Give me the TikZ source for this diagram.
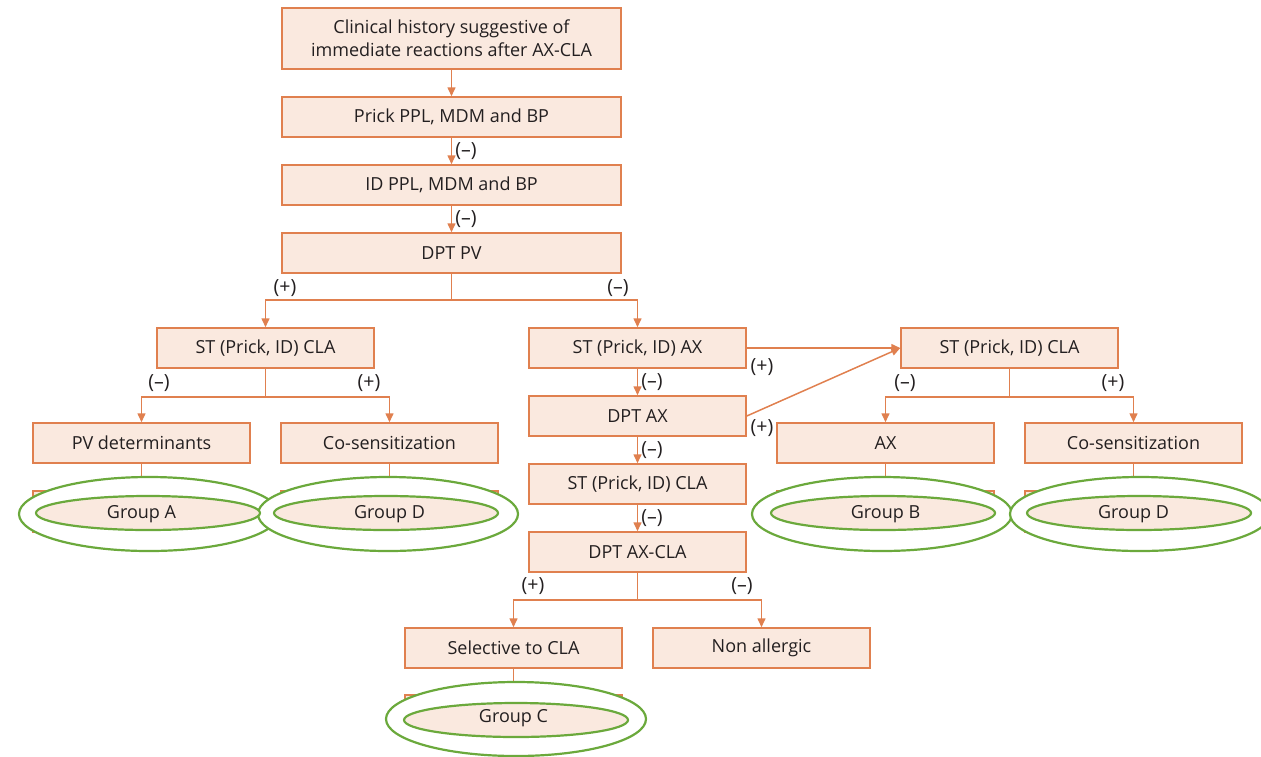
\documentclass[tikz,border=0pt]{standalone}
\usepackage{fontspec}
\setmainfont{Open Sans}
\usetikzlibrary{arrows.meta,shapes.geometric}
\definecolor{boxfill}{HTML}{FAE9DF}
\definecolor{boxline}{HTML}{E0804F}
\definecolor{grp}{HTML}{6BA93C}
\definecolor{txt}{HTML}{231F20}
\begin{document}
\begin{tikzpicture}[x=1pt,y=-1pt,
  font=\fontsize{18}{23}\selectfont,
  box/.style={draw=boxline,fill=boxfill,line width=1.5pt,minimum width=217pt,minimum height=40pt,inner sep=0pt,text=txt},
  widebox/.style={box,minimum width=339pt},
  conn/.style={draw=boxline,line width=1.5pt},
  arr/.style={conn,-{Triangle[length=9pt,width=8pt]}},
  lbl/.style={font=\fontsize{19.5}{22}\selectfont,inner sep=0pt,text=txt},
  outer/.style={draw=grp,fill=white,line width=2.2pt,ellipse,minimum width=260pt,minimum height=74pt,inner sep=0pt},
  inner/.style={draw=grp,fill=boxfill,line width=2.2pt,ellipse,minimum width=224pt,minimum height=34pt,inner sep=0pt,align=center}
]
\useasboundingbox (0,0) rectangle (1261,756);
% boxes
\node[widebox,minimum height=61pt,align=center] (hist) at (451.5,38.5) {Clinical history suggestive of\\immediate reactions after AX-CLA};
\node[widebox] (prick) at (451.5,117) {Prick PPL, MDM and BP};
\node[widebox] (id) at (451.5,185) {ID PPL, MDM and BP};
\node[widebox] (dptpv) at (451.5,253) {DPT PV};
\node[box] (stcla1) at (265.5,348) {ST (Prick, ID) CLA};
\node[box] (pvdet) at (141.5,443) {PV determinants};
\node[box] (cos1) at (389.5,443) {Co-sensitization};
\node[box] (stax) at (637.5,348) {ST (Prick, ID) AX};
\node[box] (dptax) at (637.5,416) {DPT AX};
\node[box] (stcla2) at (637.5,484) {ST (Prick, ID) CLA};
\node[box] (dptaxcla) at (637.5,552) {DPT AX-CLA};
\node[box] (sel) at (513.5,648) {Selective to CLA};
\node[box] (nonall) at (761.5,648) {Non allergic};
\node[box] (stcla3) at (1009.5,348) {ST (Prick, ID) CLA};
\node[box] (ax) at (885.5,443) {AX};
\node[box] (cos2) at (1133.5,443) {Co-sensitization};
% group rectangles
\node[box,minimum height=41pt] (ga) at (141.5,511.5) {};
\node[box,minimum height=41pt] (gd1) at (389.5,511.5) {};
\node[box,minimum height=41pt] (gc) at (513.5,715.5) {};
\node[box,minimum height=41pt] (gb) at (885.5,511.5) {};
\node[box,minimum height=41pt] (gd2) at (1133.5,511.5) {};
% connectors into groups (under ellipses)
\draw[conn] (pvdet.south) -- (ga.north);
\draw[conn] (cos1.south) -- (gd1.north);
\draw[conn] (sel.south) -- (gc.north);
\draw[conn] (ax.south) -- (gb.north);
\draw[conn] (cos2.south) -- (gd2.north);
% outer ellipses
\node[outer] (oa) at (149,514) {};
\node[outer] (od1) at (388,514) {};
\node[outer] (oc) at (516,719) {};
\node[outer] (ob) at (882,514) {};
\node[outer] (od2) at (1140,514) {};
% inner ellipses
\node[inner] (ia) at (148,513) {};
\node[inner] (id1) at (386,513) {};
\node[inner] (ic) at (516,720) {};
\node[inner] (ib) at (883,513) {};
\node[inner] (id2) at (1139,513) {};
\node[text=txt] at ([yshift=-3pt]ga) {Group A};
\node[text=txt] at ([yshift=-3pt]gd1) {Group D};
\node[text=txt] at ([yshift=-3pt]gc) {Group C};
\node[text=txt] at ([yshift=-3pt]gb) {Group B};
\node[text=txt] at ([yshift=-3pt]gd2) {Group D};
% connectors
\draw[arr] (hist) -- (prick);
\draw[arr] (prick) -- node[lbl,right=3pt] {(–)} (id);
\draw[arr] (id) -- node[lbl,right=3pt] {(–)} (dptpv);
\coordinate (b1) at (451.5,300);
\draw[conn] (dptpv.south) -- (b1);
\draw[arr] (b1) -| (stcla1.north);
\draw[arr] (b1) -| (stax.north);
\node[lbl] at (285,288) {(+)};
\node[lbl] at (618,288) {(–)};
\coordinate (b2) at (265.5,397);
\draw[conn] (stcla1.south) -- (b2);
\draw[arr] (b2) -| (pvdet.north);
\draw[arr] (b2) -| (cos1.north);
\node[lbl] at (159,383) {(–)};
\node[lbl] at (369,383) {(+)};
\draw[arr] (stax) -- node[lbl,right=3pt] {(–)} (dptax);
\draw[arr] (dptax) -- node[lbl,right=3pt] {(–)} (stcla2);
\draw[arr] (stcla2) -- node[lbl,right=3pt] {(–)} (dptaxcla);
\draw[arr] (stax.east) -- (stcla3.west);
\draw[arr] (dptax.east) -- (stcla3.west);
\node[lbl] at (762,367) {(+)};
\node[lbl] at (762,428) {(+)};
\coordinate (b3) at (637.5,600);
\draw[conn] (dptaxcla.south) -- (b3);
\draw[arr] (b3) -| (sel.north);
\draw[arr] (b3) -| (nonall.north);
\node[lbl] at (533,586) {(+)};
\node[lbl] at (742,586) {(–)};
\coordinate (b4) at (1009.5,397);
\draw[conn] (stcla3.south) -- (b4);
\draw[arr] (b4) -| (ax.north);
\draw[arr] (b4) -| (cos2.north);
\node[lbl] at (905,383) {(–)};
\node[lbl] at (1113,383) {(+)};
\end{tikzpicture}
\end{document}
